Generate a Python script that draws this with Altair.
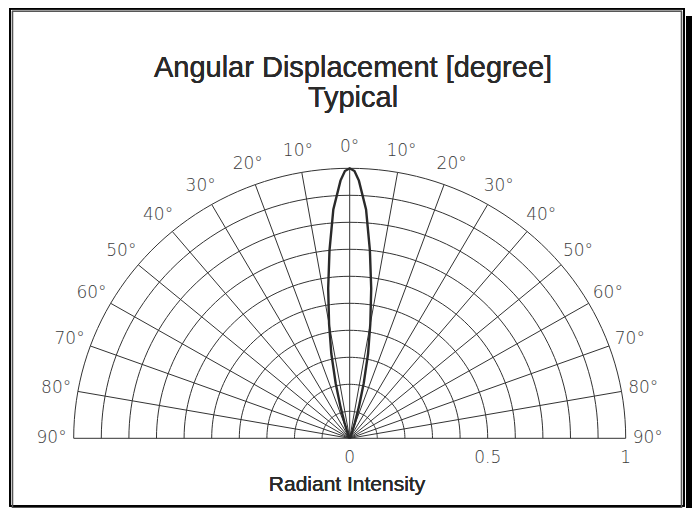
import altair as alt
import pandas as pd
import numpy as np

# ---- data ----
title_lines = ["Angular Displacement [degree]", "Typical"]
x_title = "Radiant Intensity"

ring_values = [0.1, 0.2, 0.3, 0.4, 0.5, 0.6, 0.7, 0.8, 0.9, 1.0]
spoke_angles = [-90, -80, -70, -60, -50, -40, -30, -20, -10, 0,
                10, 20, 30, 40, 50, 60, 70, 80, 90]
label_angles = [-90, -80, -70, -60, -50, -40, -30, -20, -10, 0,
                10, 20, 30, 40, 50, 60, 70, 80, 90]
label_texts = ["90°", "80°", "70°", "60°", "50°", "40°", "30°", "20°", "10°", "0°",
               "10°", "20°", "30°", "40°", "50°", "60°", "70°", "80°", "90°"]
intensity_ticks = [0, 0.5, 1]
intensity_labels = ["0", "0.5", "1"]

lobe_angles = [-30, -25, -20, -18, -16, -14, -12, -10, -8, -6, -4, -2, -1, 0,
               1, 2, 4, 6, 8, 10, 12, 14, 16, 18, 20, 25, 30]
lobe_values = [0.0, 0.01, 0.03, 0.06, 0.12, 0.21, 0.32, 0.43, 0.56, 0.70, 0.85, 0.955, 0.99, 1.0,
               0.99, 0.955, 0.85, 0.70, 0.56, 0.43, 0.32, 0.21, 0.12, 0.06, 0.03, 0.01, 0.0]

# ---- tables built from the arrays ----
arc_steps = list(range(-90, 91, 2))
rings_df = pd.DataFrame([{"ring": r, "ang": a, "k": i}
                         for r in ring_values for i, a in enumerate(arc_steps)])
spokes_df = pd.DataFrame({"ang": spoke_angles})
labels_df = pd.DataFrame({"ang": label_angles, "txt": label_texts})
ticks_df = pd.DataFrame({"v": intensity_ticks, "txt": intensity_labels})
lobe_df = pd.DataFrame({"ang": lobe_angles, "r": lobe_values, "k": range(len(lobe_angles))})

W, H = 684, 500
xs = alt.Scale(domain=[-1.2380, 1.2402], nice=False, zero=False)
ys = alt.Scale(domain=[-0.2581, 1.5937], nice=False, zero=False)

def X(f):
    return alt.X(f, type="quantitative", scale=xs, axis=None)

def Y(f):
    return alt.Y(f, type="quantitative", scale=ys, axis=None)

grid_color = "#333333"
cad_font = "DejaVu Sans"

rings = alt.Chart(rings_df).transform_calculate(
    px="datum.ring*sin(datum.ang*PI/180)",
    py="datum.ring*cos(datum.ang*PI/180)",
).mark_line(color=grid_color, strokeWidth=1).encode(
    x=X("px"), y=Y("py"), detail="ring:N", order="k:Q"
)

spokes = alt.Chart(spokes_df).transform_calculate(
    x0="0", y0="0",
    x1="sin(datum.ang*PI/180)",
    y1="cos(datum.ang*PI/180)",
).mark_rule(color=grid_color, strokeWidth=1).encode(
    x=X("x0"), y=Y("y0"), x2="x1:Q", y2="y1:Q"
)

lobe = alt.Chart(lobe_df).transform_calculate(
    px="datum.r*sin(datum.ang*PI/180)",
    py="datum.r*cos(datum.ang*PI/180)",
).mark_line(color="#2a2a2a", strokeWidth=2.4).encode(
    x=X("px"), y=Y("py"), order="k:Q"
)

ang_labels = alt.Chart(labels_df).transform_calculate(
    px="1.08*sin(datum.ang*PI/180)",
    py="1.08*cos(datum.ang*PI/180)",
).mark_text(font=cad_font, fontWeight=200, fontSize=17, color="#3c3c3c",
            align="center", baseline="middle").encode(
    x=X("px"), y=Y("py"), text="txt:N"
)

tick_labels = alt.Chart(ticks_df).transform_calculate(
    py="-0.074"
).mark_text(font=cad_font, fontWeight=200, fontSize=17, color="#3c3c3c",
            align="center", baseline="middle").encode(
    x=X("v"), y=Y("py"), text="txt:N"
)

axis_title = alt.Chart(ticks_df).mark_text(
    font="Liberation Sans", fontSize=21, color="#2a2a2a",
    align="center", baseline="middle").encode(
    x=alt.value(339), y=alt.value(477), text=alt.value(x_title)
)

title = alt.Chart(ticks_df).mark_text(
    font="Liberation Sans", fontSize=29, color="#2a2a2a", lineHeight=30,
    align="center", baseline="middle").encode(
    x=alt.value(345), y=alt.value(60), text=alt.value(title_lines)
)

frame_outer = alt.Chart(ticks_df).mark_rect(
    fill=None, stroke="#000", strokeWidth=1.5).encode(
    x=alt.value(2), x2=alt.value(676), y=alt.value(0.75), y2=alt.value(498)
)
frame_inner = alt.Chart(ticks_df).mark_rect(
    fill=None, stroke="#555", strokeWidth=1.2).encode(
    x=alt.value(4.5), x2=alt.value(673.5), y=alt.value(3.25), y2=alt.value(499.5)
)
shadow = alt.Chart(ticks_df).mark_rect(fill="#000", stroke=None).encode(
    x=alt.value(678), x2=alt.value(684), y=alt.value(8), y2=alt.value(500)
)

chart = alt.layer(
    rings, spokes, lobe, ang_labels, tick_labels, axis_title, title,
    frame_outer, frame_inner, shadow
).properties(
    width=W, height=H, padding=0, autosize=alt.AutoSizeParams(type="none")
).configure_view(stroke=None)

chart.save("out.html", embed_options={"renderer": "svg", "actions": False})
